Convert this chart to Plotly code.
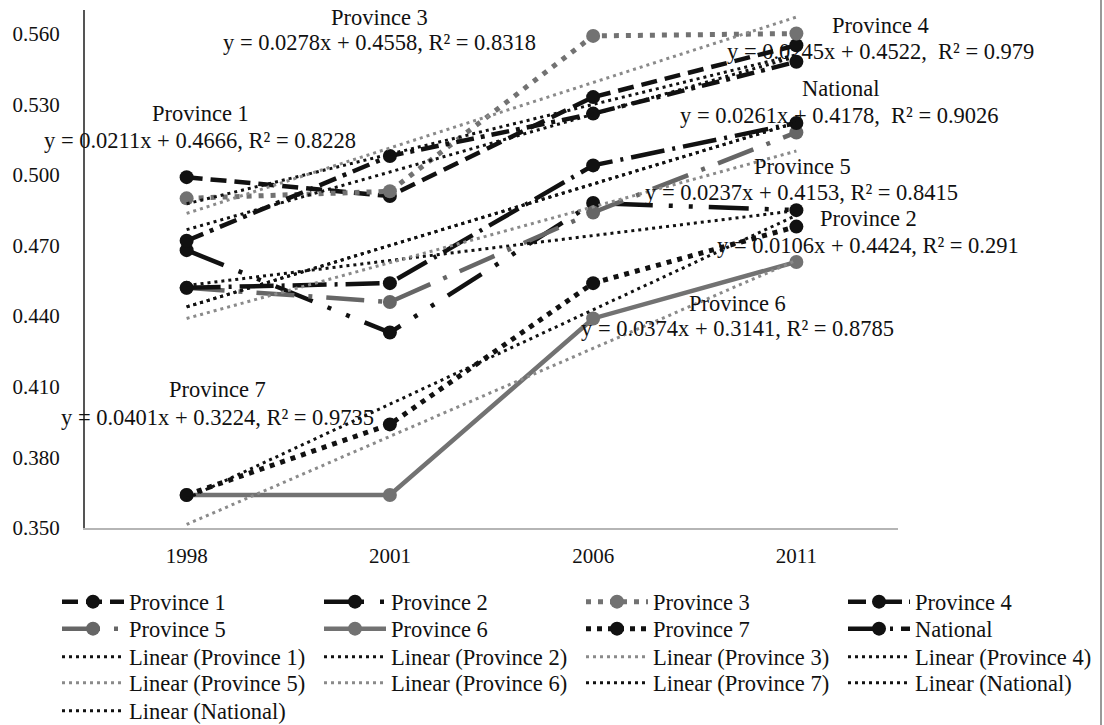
import plotly.graph_objects as go

# ---------------- data ----------------
years = ["1998", "2001", "2006", "2011"]
series_names = ["Province 1", "Province 2", "Province 3", "Province 4",
                "Province 5", "Province 6", "Province 7", "National"]
province_1 = [0.499, 0.491, 0.533, 0.555]
province_2 = [0.468, 0.433, 0.488, 0.485]
province_3 = [0.490, 0.493, 0.559, 0.560]
province_4 = [0.472, 0.508, 0.526, 0.548]
province_5 = [0.452, 0.446, 0.484, 0.518]
province_6 = [0.364, 0.364, 0.439, 0.463]
province_7 = [0.364, 0.394, 0.454, 0.478]
national = [0.452, 0.454, 0.504, 0.522]
values = [province_1, province_2, province_3, province_4,
          province_5, province_6, province_7, national]

# trendline equations shown on the chart (x = 1..4)
slopes = [0.0211, 0.0106, 0.0278, 0.0245, 0.0237, 0.0374, 0.0401, 0.0261]
intercepts = [0.4666, 0.4424, 0.4558, 0.4522, 0.4153, 0.3141, 0.3224, 0.4178]
r_squared = [0.8228, 0.291, 0.8318, 0.979, 0.8415, 0.8785, 0.9735, 0.9026]
eq_sep = [", ", ", ", ", ", ",\u00a0\u00a0", ", ", ", ", ", ", ",\u00a0\u00a0"]

y_ticks = [0.350, 0.380, 0.410, 0.440, 0.470, 0.500, 0.530, 0.560]

# ---------------- styles ----------------
BLACK = "#111111"
GRAY = "#727272"
GRAY2 = "#666666"
TGRAY = "#8a8a8a"
FONT = "Liberation Serif, Times New Roman, serif"
TXT = 22.5

series_style = [
    dict(color=BLACK, dash="16px,8px", width=4.5),
    dict(color=BLACK, dash="40px,16px,4px,16px,4px,16px", width=4.5),
    dict(color=GRAY, dash="5px,7px", width=5),
    dict(color=BLACK, dash="18px,7px,4px,7px", width=4.5),
    dict(color=GRAY2, dash="38px,14px,4px,14px", width=4.5),
    dict(color=GRAY, dash="solid", width=4.5),
    dict(color=BLACK, dash="5px,6px", width=5),
    dict(color=BLACK, dash="34px,8px,3px,8px", width=4.5),
]
trend_colors = [BLACK, BLACK, TGRAY, BLACK, TGRAY, TGRAY, BLACK, BLACK]

# plot-area geometry in pixels (for placing texts/legends)
L, R, T, B = 85, 898, 10, 528
W, H = R - L, B - T


def px(x):
    return (x - L) / W


def py(y):
    return (B - y) / H


def legend_name(i):
    return "legend" if i == 0 else f"legend{i + 1}"


fig = go.Figure()
legend_idx = 0

for name, vals, st in zip(series_names, values, series_style):
    fig.add_trace(go.Scatter(
        x=years, y=vals, name=name, mode="lines+markers",
        line=dict(color=st["color"], dash=st["dash"], width=st["width"]),
        marker=dict(color=st["color"], size=14, symbol="circle"),
        legend=legend_name(legend_idx), showlegend=True,
    ))
    legend_idx += 1

trend_order = list(range(8)) + [7]
for k in trend_order:
    ty = [slopes[k] * (i + 1) + intercepts[k] for i in range(len(years))]
    fig.add_trace(go.Scatter(
        x=years, y=ty, name=f"Linear ({series_names[k]})", mode="lines",
        line=dict(color=trend_colors[k], dash="3px,4px", width=3),
        legend=legend_name(legend_idx), showlegend=True,
    ))
    legend_idx += 1

# ---------------- legends (4 columns x 5 rows) ----------------
col_text_x = [130, 392, 654, 916]
row_center_y = [602, 629, 657, 683, 711]
ITEMW = 62
layout_legends = {}
for i in range(legend_idx):
    r, c = divmod(i, 4)
    lx = col_text_x[c] - (ITEMW + 11)
    ly = row_center_y[r] - 21.5
    layout_legends[legend_name(i)] = dict(
        x=px(lx), y=py(ly), xanchor="left", yanchor="top",
        bgcolor="rgba(0,0,0,0)", borderwidth=0, itemwidth=ITEMW,
        font=dict(family=FONT, size=TXT, color="#111"),
        orientation="v",
    )

# ---------------- equation labels ----------------
label_pos = [  # (name_x, name_y, eq_x, eq_y) in pixels
    (200, 113, 200, 140),
    (868, 219, 868, 245),
    (379, 18, 379, 43),
    (880, 25, 880, 52),
    (802, 167, 801, 193),
    (737, 303, 737, 328),
    (217, 389, 217, 417),
    (840, 88, 839, 115),
]
annotations = []
for k, (nx, ny, ex, ey) in enumerate(label_pos):
    eq = f"y = {slopes[k]}x + {intercepts[k]}{eq_sep[k]}R\u00b2 = {r_squared[k]}"
    annotations.append(dict(x=px(nx), y=py(ny), xref="paper", yref="paper",
                            text=series_names[k], showarrow=False,
                            xanchor="center", yanchor="middle",
                            font=dict(family=FONT, size=TXT, color="#111")))
    annotations.append(dict(x=px(ex), y=py(ey), xref="paper", yref="paper",
                            text=eq, showarrow=False,
                            xanchor="center", yanchor="middle",
                            font=dict(family=FONT, size=TXT, color="#111")))

fig.update_layout(
    width=1104, height=725,
    margin=dict(l=L, r=1104 - R, t=T, b=725 - B, pad=0, autoexpand=False),
    paper_bgcolor="white", plot_bgcolor="white",
    showlegend=True,
    font=dict(family=FONT, size=21, color="#111"),
    annotations=annotations,
    shapes=[dict(type="line", xref="paper", yref="paper",
                 x0=px(1101), x1=px(1101), y0=py(0), y1=py(725),
                 line=dict(color="#999", width=2))],
    **layout_legends,
)
fig.update_xaxes(
    type="category", range=[-0.5, 3.5], showgrid=False, zeroline=False,
    showline=True, linecolor="#b5b5b5", linewidth=2,
    ticks="outside", ticklen=8, tickcolor="rgba(0,0,0,0)",
    tickfont=dict(family=FONT, size=21, color="#111"),
)
fig.update_yaxes(
    range=[0.35, 0.57], showgrid=False, zeroline=False,
    showline=True, linecolor="#555", linewidth=2,
    tickvals=y_ticks, ticktext=[f"{v:.3f}" for v in y_ticks],
    ticks="outside", ticklen=19, tickcolor="rgba(0,0,0,0)",
    tickfont=dict(family=FONT, size=21, color="#111"),
)

fig.write_html(
    "out.html",
    config={"displayModeBar": False},
    post_script="document.body.style.margin='0';document.body.style.overflow='hidden';",
)
